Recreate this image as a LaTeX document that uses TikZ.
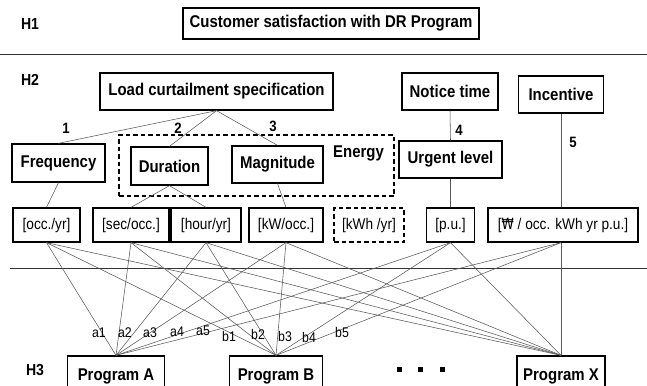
\documentclass[tikz,border=0pt]{standalone}
\usepackage{fontspec}
\setmainfont{Liberation Sans}[FakeStretch=0.88]
\newfontfamily\wonfont{DejaVu Sans}[FakeStretch=0.8]
\begin{document}
\begin{tikzpicture}[x=1pt,y=-1pt,
  box/.style={draw=black,line width=1.3pt,inner sep=0pt,font=\bfseries\fontsize{17}{17}\selectfont},
  ubox/.style={draw=black,line width=1.3pt,inner sep=0pt,minimum height=34,font=\fontsize{15.5}{16}\selectfont},
  dbox/.style={draw=black,line width=1.3pt,dash pattern=on 4.5pt off 3pt,inner sep=0pt},
  conn/.style={draw=black!65,line width=0.55pt},
  sep/.style={draw=black!80,line width=1pt},
  lab/.style={font=\bfseries\fontsize{16}{16}\selectfont},
  nlab/.style={font=\bfseries\fontsize{15}{15}\selectfont},
  alab/.style={font=\fontsize{14}{14}\selectfont},
  dot/.style={fill=black,minimum size=5,inner sep=0pt}]
\useasboundingbox (0,0) rectangle (647,385);
\clip (0,0) rectangle (647,385);
% level labels
\node[lab] (h1) at (30,24) {H1};
\node[lab] (h2) at (30,80) {H2};
\node[lab] (h3) at (35,370) {H3};
% separators
\draw[sep] (0,55) -- (647,55);
\draw[sep] (10,268) -- (647,268);
% H1
\node[box,minimum width=296,minimum height=31] (cust) at (331,23.5) {Customer satisfaction with DR Program};
% H2 top
\node[box,minimum width=233,minimum height=37] (load) at (216.5,91.5) {Load curtailment specification};
\node[box,minimum width=96,minimum height=37] (notice) at (450,91.5) {Notice time};
\node[box,minimum width=85,minimum height=37] (inc) at (561,94.5) {Incentive};
% H2 middle
\node[dbox,minimum width=275,minimum height=61] (energy) at (256.5,165.5) {};
\node[box,minimum width=93,minimum height=38] (freq) at (58.5,163) {Frequency};
\node[box,minimum width=77,minimum height=38] (dur) at (169.5,166) {Duration};
\node[box,minimum width=91,minimum height=37] (mag) at (277.5,164.5) {Magnitude};
\node[box,draw=none] (elab) at (358.5,153) {Energy};
\node[box,minimum width=103,minimum height=37] (urg) at (450.5,159.5) {Urgent level};
% units
\node[ubox,minimum width=67] (occ) at (46.5,225) {[occ./yr]};
\node[ubox,minimum width=76] (sec) at (131,225) {[sec/occ.]};
\node[ubox,minimum width=70] (hour) at (206,225) {[hour/yr]};
\node[ubox,minimum width=74] (kw) at (286,225) {[kW/occ.]};
\node[ubox,dbox,minimum width=70] (kwh) at (369,225) {[kWh /yr]};
\node[ubox,minimum width=48] (pu) at (450.5,225) {[p.u.]};
\node[ubox,minimum width=150] (won) at (563,225) {[{\wonfont ₩} / occ. kWh yr p.u.]};
% H3
\node[box,minimum width=97,minimum height=40] (pa) at (116,376) {Program A};
\node[box,minimum width=93,minimum height=40] (pb) at (276,376) {Program B};
\node[box,minimum width=88,minimum height=40] (px) at (561,376) {Program X};
\node[dot] (d1) at (399,369) {};
\node[dot] (d2) at (420,369) {};
\node[dot] (d3) at (442,369) {};
% H2 connectors
\draw[conn] (load.south) -- (freq.north);
\draw[conn] (load.south) -- (dur.north);
\draw[conn] (load.south) -- (mag.north);
\draw[conn] (notice.south) -- (urg.north);
\draw[conn] (inc.south) -- (inc.south |- won.north);
\draw[conn] (freq.south) -- (occ.north);
\draw[conn] (dur.south) -- (sec.north);
\draw[conn] (dur.south) -- (hour.north);
\draw[conn] (mag.south) -- (kw.north);
\draw[conn] (urg.south) -- (pu.north);
\node[nlab] (l1) at (66,128) {1};
\node[nlab] (l2) at (178,128) {2};
\node[nlab] (l3) at (273,126) {3};
\node[nlab] (l4) at (459,130) {4};
\node[nlab] (l5) at (573,142) {5};
% unit to program connectors
\coordinate (wonb) at (won.south -| px.north);
\foreach \u in {occ,sec,hour,kw,pu}{
  \foreach \p in {pa,pb,px}{
    \draw[conn] (\u.south) -- (\p.north);
  }
}
\draw[conn] (wonb) -- (pa.north);
\draw[conn] (wonb) -- (pb.north);
\draw[conn] (wonb) -- (px.north);
% alternative labels
\node[alab] (a1) at (99,333) {a1};
\node[alab] (a2) at (125,333) {a2};
\node[alab] (a3) at (150,333) {a3};
\node[alab] (a4) at (177,332) {a4};
\node[alab] (a5) at (203,331) {a5};
\node[alab] (b1) at (229,336) {b1};
\node[alab] (b2) at (258,334) {b2};
\node[alab] (b3) at (285,336) {b3};
\node[alab] (b4) at (309,337) {b4};
\node[alab] (b5) at (342,332) {b5};
\end{tikzpicture}
\end{document}
